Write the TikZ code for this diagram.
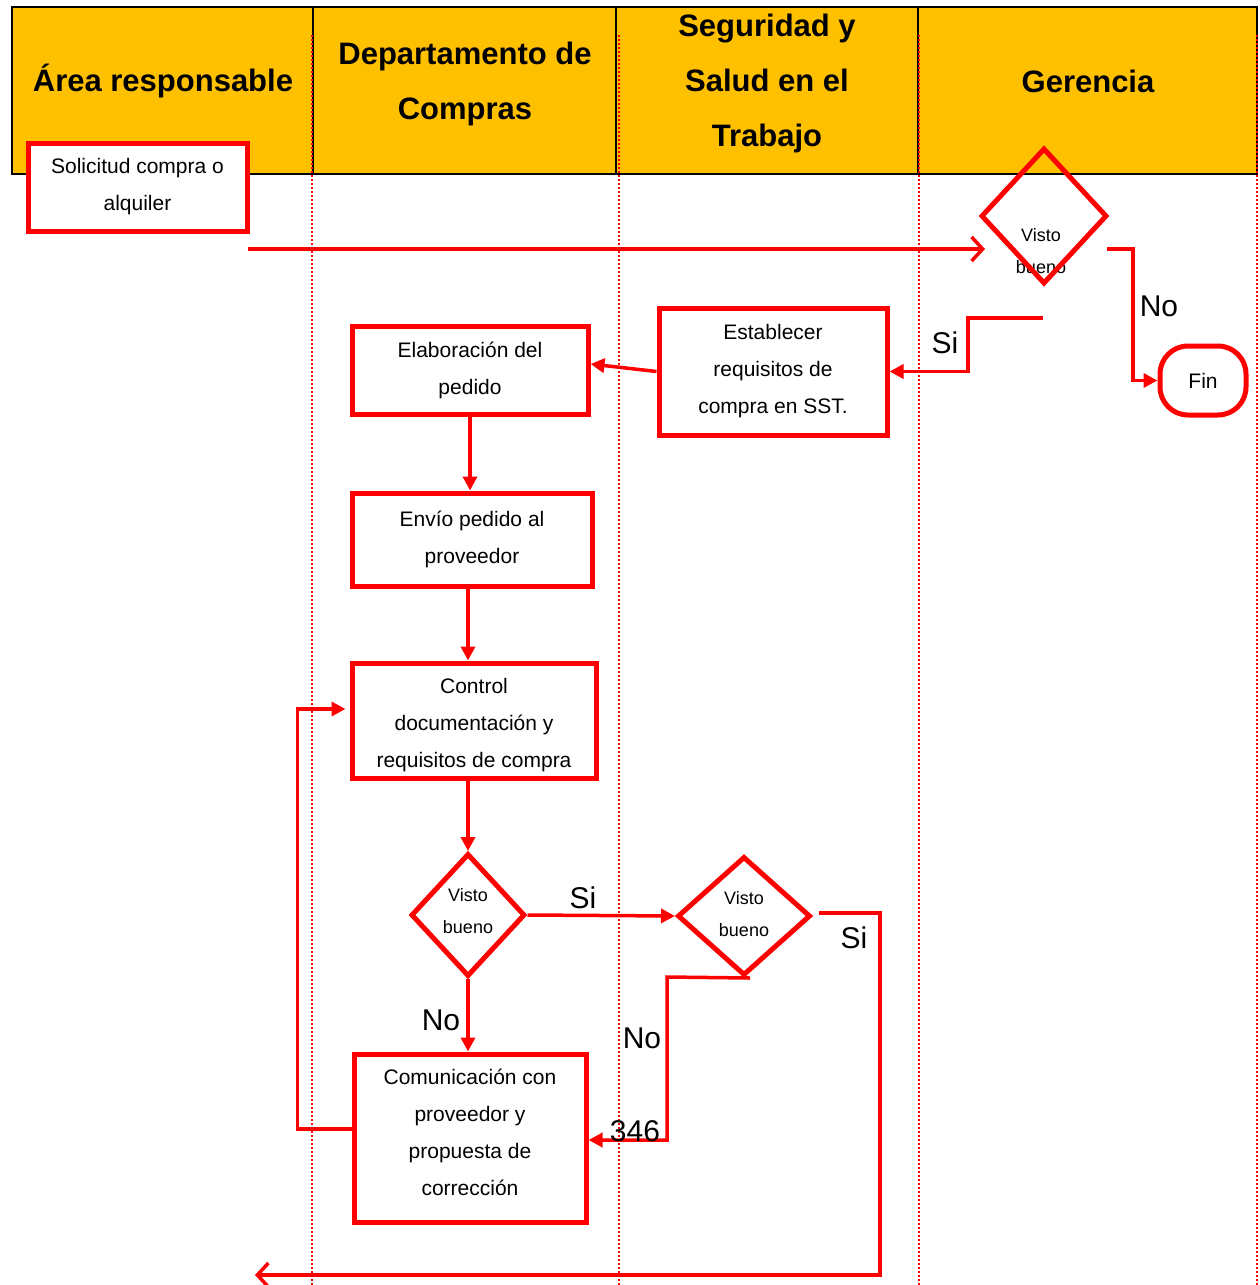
\documentclass[tikz,border=0pt]{standalone}
\usepackage{fontspec}
\setmainfont{Liberation Sans}
\usetikzlibrary{shapes.geometric,arrows.meta}
\definecolor{hdr}{HTML}{FFC000}
\definecolor{rd}{HTML}{FF0000}
\begin{document}
\begin{tikzpicture}[x=1pt,y=-1pt,
  hdrtext/.style={font=\fontsize{31}{55}\selectfont\bfseries, align=center, inner sep=0pt},
  stepbox/.style={draw=rd, line width=5pt, fill=white, inner sep=0pt, align=center,
    font=\fontsize{21}{37}\selectfont},
  decision/.style={draw=rd, line width=5pt, diamond, inner sep=0pt},
  vbtext/.style={font=\fontsize{18}{32}\selectfont, align=center, inner sep=0pt},
  lbl/.style={font=\fontsize{30}{36}\selectfont, inner sep=0pt},
  conn/.style={draw=rd, line width=3.5pt},
  arr/.style={conn, -{Triangle[length=14pt,width=14pt]}},
  openarr/.style={conn, -{Straight Barb[length=11pt,width=24pt,line width=3.5pt]}},
  lane/.style={draw=rd, line width=1.2pt, dash pattern=on 2pt off 2pt}
]
\useasboundingbox (0,0) rectangle (1259,1285);

% header
\fill[hdr] (12,7) rectangle (1257,174);
\draw[line width=2.5pt] (12,7) rectangle (1257,174);
\foreach \x in {313,616,918} \draw[line width=2pt] (\x,7) -- (\x,174);
\node[hdrtext] (h1) at (163,81) {Área responsable};
\node[hdrtext] (h2) at (465,84) {Departamento de\\Compras};
\node[hdrtext] (h3) at (767,83) {Seguridad y\\Salud en el\\Trabajo};
\node[hdrtext] (h4) at (1088,81) {Gerencia};

% lanes
\foreach \x in {312,619,919,1257} \draw[lane] (\x,35) -- (\x,1285);

% coordinates for free ends
\coordinate (s1) at (248,249);
\coordinate (s2) at (985,249);
\coordinate (g1) at (1107,249);
\coordinate (g2) at (1043,318);
\coordinate (bR) at (880,1275);
\coordinate (bEnd) at (255,1275);

% nodes
\node[stepbox, minimum width=219pt, minimum height=88pt] (sol) at (137.5,187) {Solicitud compra o\\alquiler};
\node[vbtext] (gtxt) at (1041,251) {Visto\\bueno};
\node[decision, minimum width=126pt, minimum height=136pt] (gd) at (1044,216) {};
\node[stepbox, rounded corners=28pt, minimum width=86pt, minimum height=69pt] (fin) at (1203,380.5) {Fin};
\node[stepbox, minimum width=228pt, minimum height=127pt] (est) at (773,371.5) {Establecer\\requisitos de\\compra en SST.};
\node[stepbox, minimum width=236pt, minimum height=88pt] (elab) at (470,370) {Elaboración del\\pedido};
\node[stepbox, minimum width=240pt, minimum height=93pt] (env) at (472,539.5) {Envío pedido al\\proveedor};
\node[stepbox, minimum width=244pt, minimum height=115pt] (ctrl) at (474,720.5) {\rule{0pt}{25pt}Control\\documentación y\\requisitos de compra};
\node[decision, fill=white, minimum width=114pt, minimum height=123pt] (d2) at (468,915) {};
\node[vbtext] (d2t) at (468,911) {Visto\\bueno};
\node[decision, fill=white, minimum width=133pt, minimum height=119pt] (d3) at (744,916) {};
\node[vbtext] (d3t) at (744,914) {Visto\\bueno};
\node[stepbox, minimum width=232pt, minimum height=168pt] (com) at (470,1138) {Comunicación con\\proveedor y\\propuesta de\\corrección\rule[-12pt]{0pt}{0pt}};

% connectors
\draw[openarr] (s1) -- (s2);
\draw[arr] (g1) -- (1133,249) |- (fin.west);
\draw[arr] (g2) -- (968,318) |- (est.east);
\draw[arr] (est.west) -- ([yshift=6pt]elab.east);
\draw[arr] (elab.south) -- (elab.south |- env.north);
\draw[arr] ([xshift=-4pt]env.south) -- ([xshift=-4pt]env.south |- ctrl.north);
\draw[arr] (d2.north |- ctrl.south) -- (d2.north);
\draw[arr] (d2.east) -- (d3.west);
\draw[arr] (d2.south) -- (d2.south |- com.north);
\draw[arr] ([xshift=6pt]d3.south) -- (667,977) |- ([yshift=-2pt]com.east);
\draw[openarr] ([xshift=6pt,yshift=3pt]d3.east) -| (bR) -- (bEnd);
\draw[arr] ([yshift=9pt]com.west) -| ([xshift=-52pt,yshift=11.5pt]ctrl.west) -- ([xshift=-4pt,yshift=11.5pt]ctrl.west);

% labels
\node[lbl] (lno1) at (1159,306) {No};
\node[lbl] (lsi1) at (945,343) {Si};
\node[lbl] (lsi2) at (583,898) {Si};
\node[lbl] (lno2) at (441,1020) {No};
\node[lbl] (lno3) at (642,1038) {No};
\node[lbl] (l346) at (635,1131) {346};
\node[lbl] (lsi3) at (854,938) {Si};
\end{tikzpicture}
\end{document}
